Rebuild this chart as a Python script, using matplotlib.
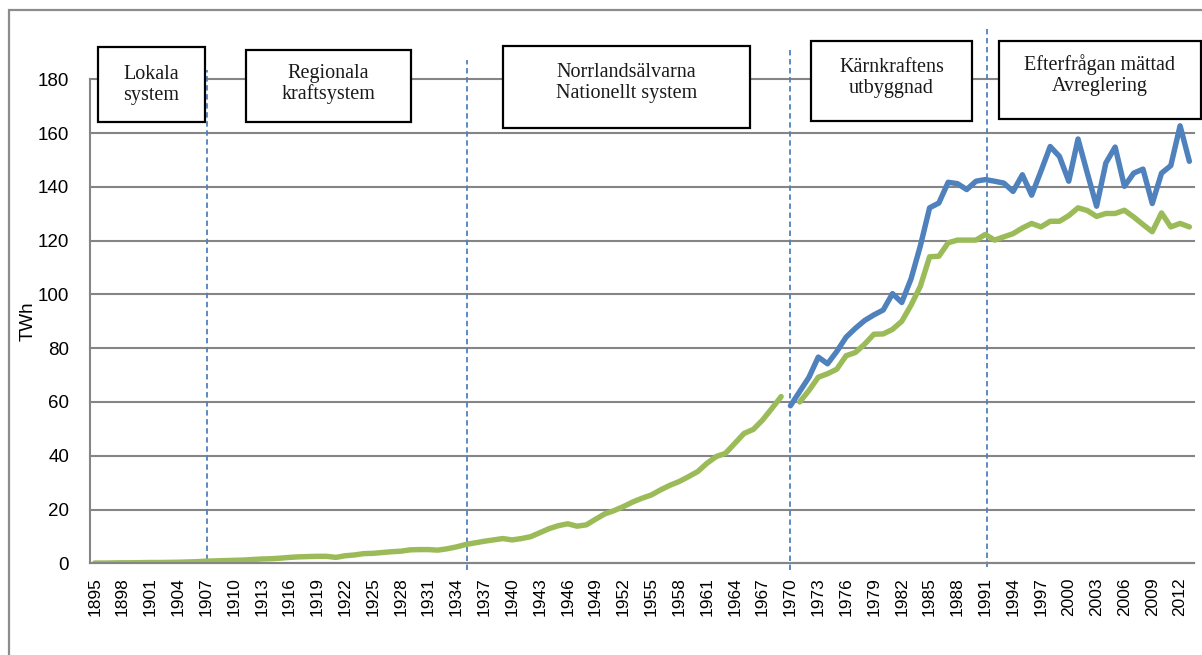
import numpy as np
import matplotlib
matplotlib.use("Agg")
import matplotlib.pyplot as plt
from matplotlib.patches import Rectangle

# arsvarden, TWh
years = list(range(1895, 2014))
green_early = [0.1, 0.1, 0.15, 0.2, 0.2, 0.25, 0.3, 0.3, 0.35, 0.4,
               0.5, 0.6, 0.8, 0.9, 1.0, 1.1, 1.2, 1.4, 1.6, 1.7,
               1.9, 2.2, 2.4, 2.5, 2.6, 2.6, 2.2, 2.8, 3.1, 3.6,
               3.7, 4.0, 4.3, 4.5, 5.0, 5.1, 5.1, 4.9, 5.4, 6.1,
               7.0, 7.6, 8.2, 8.7, 9.2, 8.7, 9.2, 9.9, 11.4, 12.9,
               14.0, 14.7, 13.8, 14.3, 16.4, 18.4, 19.6, 21.1, 22.8, 24.2,
               25.4, 27.3, 29.0, 30.4, 32.2, 34.1, 37.2, 39.7, 40.9, 44.6,
               48.3, 49.8, 53.3, 57.6, 62.0]  # 1895-1969
blue_late = [58.6, 63.9, 69.2, 76.7, 74.2, 78.8, 84.1, 87.4, 90.3, 92.4,
             94.2, 100.3, 97.0, 105.8, 118.0, 132.2, 134.0, 141.7, 141.2, 139.0,
             142.1, 142.7, 142.1, 141.4, 138.3, 144.5, 136.9, 145.8, 155.0, 151.3,
             142.1, 157.8, 145.1, 132.8, 148.9, 154.8, 140.2, 145.1, 146.6, 133.8,
             145.1, 147.9, 162.7, 149.5]  # 1970-2013
green_late = [60.0, 64.3, 69.2, 70.5, 72.2, 77.2, 78.4, 81.5, 85.2, 85.3,
              87.0, 90.0, 96.0, 103.0, 114.0, 114.2, 119.2, 120.2, 120.2, 120.2,
              122.3, 120.2, 121.4, 122.6, 124.7, 126.4, 125.1, 127.2, 127.2, 129.3,
              132.2, 131.2, 129.0, 130.1, 130.1, 131.3, 128.8, 126.0, 123.3, 130.3,
              125.1, 126.4, 125.1]  # 1971-2013

periods = ["Lokala\nsystem", "Regionala\nkraftsystem", "Norrlandsälvarna\nNationellt system",
           "Kärnkraftens\nutbyggnad", "Efterfrågan mättad\nAvreglering"]
period_breaks = [1907.1, 1935.1, 1969.9, 1991.2]

n = len(years)
x = np.arange(n)
green = np.full(n, np.nan)
blue = np.full(n, np.nan)
green[:len(green_early)] = green_early
green[years.index(1971):] = green_late
blue[years.index(1970):] = blue_late

W, H = 1202, 655
fig = plt.figure(figsize=(W / 100, H / 100), dpi=100)


def px(x0, y0):
    # pixel (from top left) -> figure fraction
    return x0 / W, 1 - y0 / H


# outer frame
fig.add_artist(Rectangle(px(9, 670), 1220 / W, 660 / H, transform=fig.transFigure,
                         fill=False, edgecolor='#8c8c8c', linewidth=1.6))

ax = fig.add_axes([90 / W, 1 - 563.3 / H, 1104 / W, 484 / H])
grey = '#858585'
ax.set_xlim(-0.5, n - 0.5)
ax.set_ylim(0, 180)
ax.set_yticks(range(0, 181, 20))
ax.yaxis.grid(True, color=grey, linewidth=1.5)
ax.set_axisbelow(True)
for gl in ax.get_ygridlines():
    gl.set_clip_on(False)
for s in ['top', 'right']:
    ax.spines[s].set_visible(False)
for s in ['left', 'bottom']:
    ax.spines[s].set_color(grey)
    ax.spines[s].set_linewidth(1.5)

ax.plot(x, green, color='#9BBB59', linewidth=3.9, solid_joinstyle='round', solid_capstyle='round')
ax.plot(x, blue, color='#4F81BD', linewidth=3.9, solid_joinstyle='round', solid_capstyle='round')

ax.set_xticks(x[::3])
ax.set_xticklabels([str(y) for y in years[::3]], rotation=90, fontsize=12.5,
                   family='Liberation Sans')
ax.tick_params(axis='x', length=0, pad=10)
ax.tick_params(axis='y', length=0, pad=15, labelsize=13.5)
for lab in ax.get_yticklabels():
    lab.set_family('Liberation Sans')
ax.set_ylabel('TWh', fontsize=13.5, family='Liberation Sans')
ax.yaxis.set_label_coords(-0.048, 0.5)

# period dividers
line_tops = [183.4, 187.2, 191.6, 200]
line_bottoms = [1.2, -2.5, -2.5, -1.4]
for xb, yt, yb in zip(period_breaks, line_tops, line_bottoms):
    xi = xb - years[0]
    ax.plot([xi, xi], [yb, yt], color='#4F81BD', linestyle=(0, (3, 2)), linewidth=1.3,
            clip_on=False, zorder=1)

# period boxes (pixel extents from the layout)
boxes = [(98, 47, 205, 122, 85), (246, 50, 411, 122, 84), (503, 46, 750, 128, 83),
         (811, 41, 972, 121, 78), (999, 41, 1201, 119, 75)]
for label, (x0, y0, x1, y1, ty) in zip(periods, boxes):
    fig.add_artist(Rectangle(px(x0, y1), (x1 - x0) / W, (y1 - y0) / H,
                             transform=fig.transFigure, facecolor='white',
                             edgecolor='black', linewidth=1.6, zorder=3))
    tx, tyf = px((x0 + x1) / 2, ty)
    fig.text(tx, tyf, label, ha='center', va='center', fontsize=14.5,
             family='Liberation Serif', linespacing=1.1, color='#1a1a1a', zorder=4)

plt.savefig('out.png', dpi=100)
plt.close()
